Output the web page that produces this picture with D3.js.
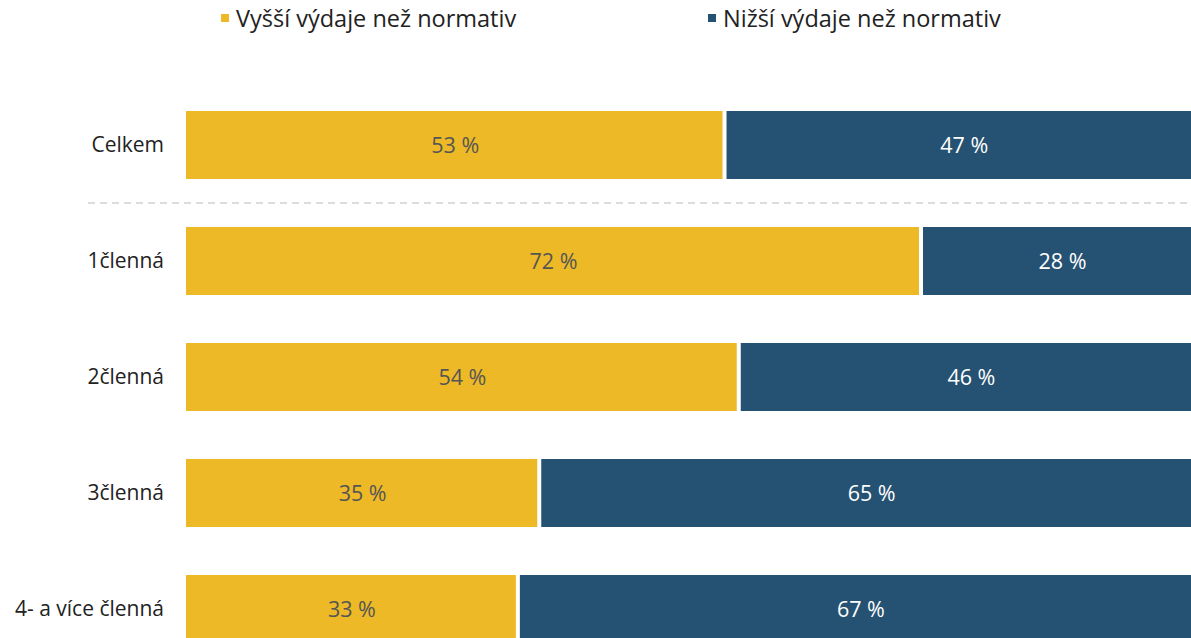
<!DOCTYPE html>
<html>
<head>
<meta charset="utf-8">
<script src="https://cdn.jsdelivr.net/npm/d3@7"></script>
<style>
  body { margin: 0; background: #fff; overflow: hidden; }
  svg { display: block; font-family: "Open Sans", Roboto, sans-serif; }
</style>
</head>
<body>
<div id="chart"></div>
<script>
// Data
var categories = ["Celkem", "1členná", "2členná", "3členná", "4- a více členná"];
var higher = [52.9, 72.2, 54.3, 34.7, 32.6];   // Vyšší výdaje než normativ
var lower = higher.map(function(v) { return 100 - v; }); // Nižší výdaje než normativ
var seriesNames = ["Vyšší výdaje než normativ", "Nižší výdaje než normativ"];
var colors = ["#edb926", "#255272"];

var width = 1191;
var height = 638;

var svg = d3.select("#chart")
  .append("svg")
  .attr("width", width)
  .attr("height", height);

// Scales
var x = d3.scaleLinear().domain([0, 100]).range([186, 1204]);
var y = d3.scaleBand()
  .domain(categories)
  .range([111 - 24, 111 - 24 + 116 * 5])
  .paddingInner(48 / 116)
  .paddingOuter(24 / 116);

// Legend
var legendX = [221, 708];
seriesNames.forEach(function(name, i) {
  var g = svg.append("g").attr("transform", "translate(" + legendX[i] + ",0)");
  g.append("rect")
    .attr("x", 0).attr("y", 14)
    .attr("width", 8).attr("height", 8)
    .attr("fill", colors[i]);
  g.append("text")
    .attr("x", 15).attr("y", 27)
    .attr("font-size", 23.5)
    .attr("fill", "#222")
    .text(name);
});

// Separator after "Celkem"
var sepY = (y("Celkem") + y.bandwidth() + y("1členná")) / 2;
svg.append("line")
  .attr("x1", 88).attr("x2", width)
  .attr("y1", sepY).attr("y2", sepY)
  .attr("stroke", "#dcdcdc")
  .attr("stroke-width", 2)
  .attr("stroke-dasharray", "7,5");

// Category labels
svg.selectAll(".cat")
  .data(categories)
  .enter()
  .append("text")
  .attr("class", "cat")
  .attr("x", 164)
  .attr("y", function(d) { return y(d) + y.bandwidth() / 2; })
  .attr("dy", "0.35em")
  .attr("text-anchor", "end")
  .attr("font-size", 21)
  .attr("fill", "#222")
  .text(function(d) { return d; });

// Bars
var rows = categories.map(function(c, i) {
  return [
    { cat: c, x0: 0, x1: higher[i], v: higher[i], s: 0 },
    { cat: c, x0: higher[i], x1: 100, v: lower[i], s: 1 }
  ];
});

var row = svg.selectAll(".row")
  .data(rows)
  .enter()
  .append("g")
  .attr("class", "row");

row.selectAll("rect")
  .data(function(d) { return d; })
  .enter()
  .append("rect")
  .attr("x", function(d) { return x(d.x0) + (d.s === 1 ? 2 : 0); })
  .attr("y", function(d) { return y(d.cat); })
  .attr("width", function(d) { return x(d.x1) - x(d.x0) - 2; })
  .attr("height", y.bandwidth())
  .attr("fill", function(d) { return colors[d.s]; });

row.selectAll("text")
  .data(function(d) { return d; })
  .enter()
  .append("text")
  .attr("x", function(d) { return (x(d.x0) + x(d.x1)) / 2; })
  .attr("y", function(d) { return y(d.cat) + y.bandwidth() / 2; })
  .attr("dy", "0.35em")
  .attr("text-anchor", "middle")
  .attr("font-size", 21.5)
  .attr("fill", function(d) { return d.s === 0 ? "#555" : "#fff"; })
  .text(function(d) { return Math.round(d.v) + " %"; });
</script>
</body>
</html>
